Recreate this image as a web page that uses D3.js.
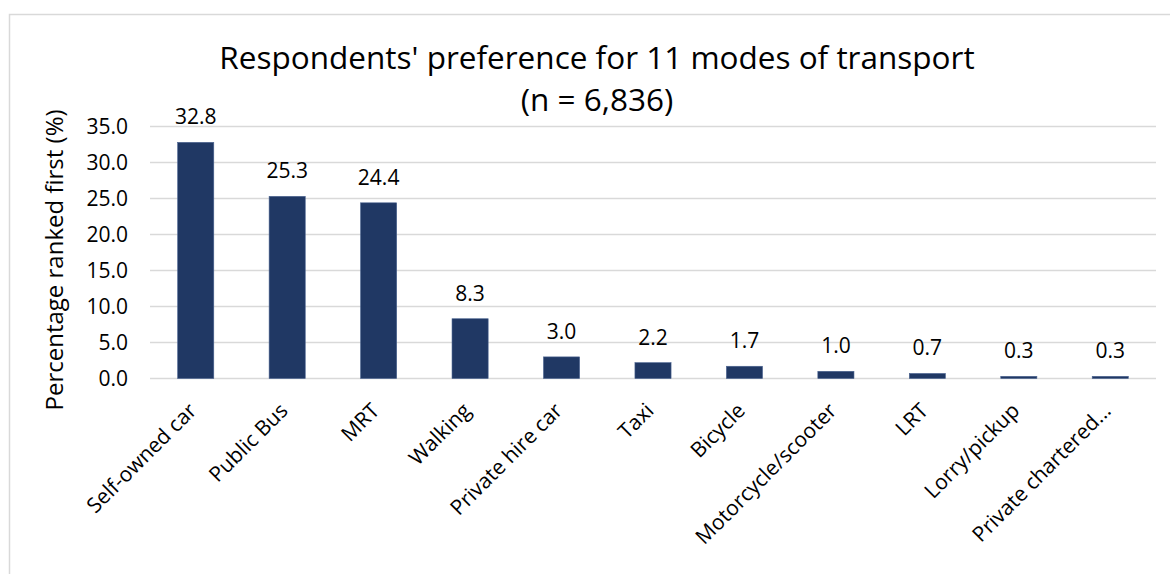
<!DOCTYPE html>
<html>
<head>
<meta charset="utf-8">
<script src="https://cdn.jsdelivr.net/npm/d3@7"></script>
<style>
  body { margin: 0; background: #fff; }
  svg text { font-family: "Open Sans", sans-serif; fill: #000; }
</style>
</head>
<body>
<div id="chart"></div>
<script>
// chart data
var modes = ["Self-owned car", "Public Bus", "MRT", "Walking", "Private hire car", "Taxi",
             "Bicycle", "Motorcycle/scooter", "LRT", "Lorry/pickup", "Private chartered..."];
var percents = [32.8, 25.3, 24.4, 8.3, 3.0, 2.2, 1.7, 1.0, 0.7, 0.3, 0.3];
var yTicks = [0, 5, 10, 15, 20, 25, 30, 35];
var titleLines = ["Respondents' preference for 11 modes of transport", "(n = 6,836)"];
var yTitle = "Percentage ranked first (%)";

var width = 1170, height = 574;
var plot = {left: 150, right: 1156, top: 126.5, bottom: 378.5};

var svg = d3.select("#chart").append("svg")
    .attr("width", width)
    .attr("height", height);

// outer chart frame (only top and left edges fall inside the picture)
svg.append("rect")
    .attr("x", 9.5).attr("y", 14.5)
    .attr("width", 1300).attr("height", 700)
    .style("fill", "none")
    .style("stroke", "#d9d9d9")
    .style("stroke-width", 1.5);

var x = d3.scaleBand()
    .domain(modes)
    .range([plot.left, plot.right])
    .paddingInner(0.605)
    .paddingOuter(0.3025);

var y = d3.scaleLinear()
    .domain([0, 35])
    .range([plot.bottom, plot.top]);

// gridlines
svg.append("g")
    .selectAll("line")
    .data(yTicks)
    .enter()
    .append("line")
    .attr("x1", plot.left).attr("x2", plot.right)
    .attr("y1", d => y(d)).attr("y2", d => y(d))
    .style("stroke", "#d9d9d9")
    .style("stroke-width", 1.5);

// y tick labels
var yAxis = svg.append("g")
    .attr("transform", "translate(" + plot.left + ",0)")
    .call(d3.axisLeft(y).tickValues(yTicks).tickFormat(d3.format(".1f")).tickSize(0).tickPadding(22));
yAxis.select(".domain").remove();
yAxis.selectAll("text")
    .style("font-family", "'Open Sans', sans-serif")
    .style("font-size", "21px")
    .style("fill", "#000");

// bars
svg.append("g")
    .selectAll("rect")
    .data(percents)
    .enter()
    .append("rect")
    .attr("x", (d, i) => x(modes[i]))
    .attr("y", d => y(d))
    .attr("width", x.bandwidth())
    .attr("height", d => y(0) - y(d))
    .style("fill", "#203864")
    .style("stroke", "#4a6390")
    .style("stroke-width", 0.6);

// value labels
svg.append("g")
    .selectAll("text")
    .data(percents)
    .enter()
    .append("text")
    .attr("x", (d, i) => x(modes[i]) + x.bandwidth() / 2)
    .attr("y", d => y(d) - 18)
    .attr("text-anchor", "middle")
    .style("font-size", "21px")
    .text(d => d3.format(".1f")(d));

// category labels, rotated 45 degrees
svg.append("g")
    .selectAll("text")
    .data(modes)
    .enter()
    .append("text")
    .attr("transform", d => "translate(" + (x(d) + x.bandwidth() / 2 + 2) + ",412) rotate(-45)")
    .attr("text-anchor", "end")
    .style("font-size", "21px")
    .text(d => d);

// title
svg.append("g")
    .selectAll("text")
    .data(titleLines)
    .enter()
    .append("text")
    .attr("x", 597)
    .attr("y", (d, i) => 69 + i * 42)
    .attr("text-anchor", "middle")
    .style("font-size", "31.5px")
    .text(d => d);

// y axis title
svg.append("text")
    .attr("transform", "translate(63,260) rotate(-90)")
    .attr("text-anchor", "middle")
    .style("font-size", "24px")
    .text(yTitle);
</script>
</body>
</html>
